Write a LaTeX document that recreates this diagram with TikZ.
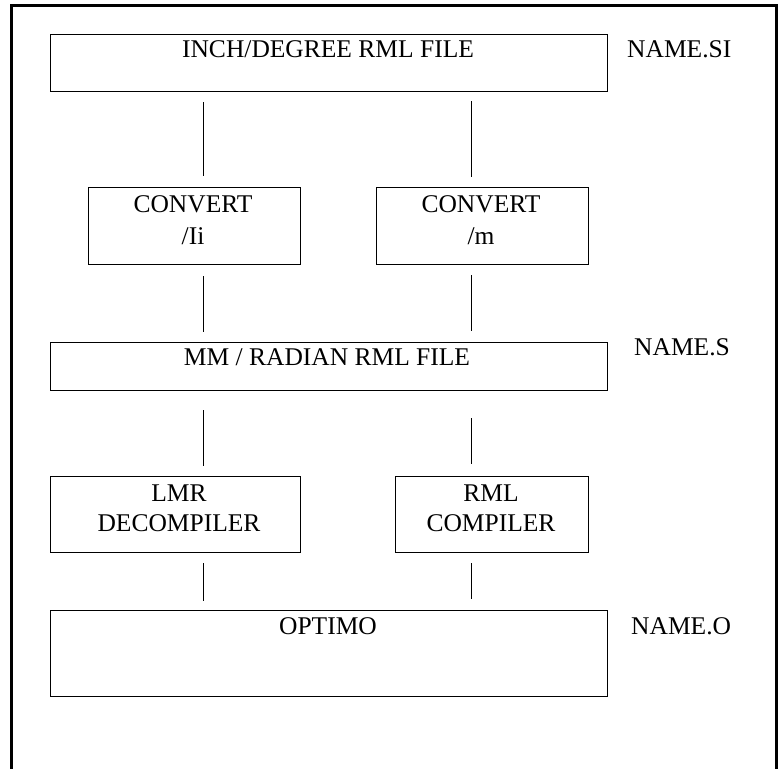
\documentclass[tikz,border=0pt]{standalone}
\usepackage{fontspec}
\setmainfont{Liberation Serif}
\begin{document}
\begin{tikzpicture}[x=1pt,y=-1pt,
  box/.style={draw, line width=1.3pt, inner sep=0pt, anchor=north west},
  lbl/.style={font=\fontsize{25.5}{30}\selectfont, inner sep=0pt, anchor=base},
  side/.style={font=\fontsize{25.5}{30}\selectfont, inner sep=0pt, anchor=base west},
  conn/.style={line width=1pt}]
\useasboundingbox (0,0) rectangle (780,769);
% outer frame (open at the bottom)
\draw[line width=2.2pt] (11.5,769) -- (11.5,5.5) -- (776.5,5.5) -- (776.5,769);

% boxes
\node[box, minimum width=557pt, minimum height=57pt] (top) at (50,34) {};
\node[box, minimum width=212pt, minimum height=77pt] (cl) at (88,187) {};
\node[box, minimum width=212pt, minimum height=77pt] (cr) at (375.5,187) {};
\node[box, minimum width=557pt, minimum height=48pt] (mm) at (49.5,341.5) {};
\node[box, minimum width=250pt, minimum height=76pt] (lmr) at (49.5,475.5) {};
\node[box, minimum width=192.5pt, minimum height=76pt] (rml) at (395,475.5) {};
\node[box, minimum width=557pt, minimum height=86pt] (opt) at (49.7,610) {};

% texts
\node[lbl] (ttop) at (328,57) {INCH/DEGREE RML FILE};
\node[side] (nsi) at (627,57) {NAME.SI};
\node[lbl] (tcl1) at (193,212) {CONVERT};
\node[lbl] (tcl2) at (193,244) {/Ii};
\node[lbl] (tcr1) at (481,212) {CONVERT};
\node[lbl] (tcr2) at (481,244) {/m};
\node[lbl] (tmm) at (327,365) {MM / RADIAN RML FILE};
\node[side] (ns) at (634,355.5) {NAME.S};
\node[lbl] (tlmr1) at (179,501.5) {LMR};
\node[lbl] (tlmr2) at (179,531.5) {DECOMPILER};
\node[lbl] (trml1) at (491,501.5) {RML};
\node[lbl] (trml2) at (491,531.5) {COMPILER};
\node[lbl] (topt) at (328,634) {OPTIMO};
\node[side] (no) at (631,634) {NAME.O};

% connector columns
\coordinate (lx) at (203,0);
\coordinate (rx) at (471.5,0);

\draw[conn, shorten <=10pt, shorten >=11pt] (top.south -| lx) -- (cl.north -| lx);
\draw[conn, shorten <=9pt, shorten >=10pt] (top.south -| rx) -- (cr.north -| rx);
\draw[conn, shorten <=11pt, shorten >=10pt] (cl.south -| lx) -- (mm.north -| lx);
\draw[conn, shorten <=10pt, shorten >=11pt] (cr.south -| rx) -- (mm.north -| rx);
\draw[conn, shorten <=19.5pt, shorten >=9.5pt] (mm.south -| lx) -- (lmr.north -| lx);
\draw[conn, shorten <=27.5pt, shorten >=11.5pt] (mm.south -| rx) -- (rml.north -| rx);
\draw[conn, shorten <=10.5pt, shorten >=9pt] (lmr.south -| lx) -- (opt.north -| lx);
\draw[conn, shorten <=10.5pt, shorten >=11pt] (rml.south -| rx) -- (opt.north -| rx);
\end{tikzpicture}
\end{document}
